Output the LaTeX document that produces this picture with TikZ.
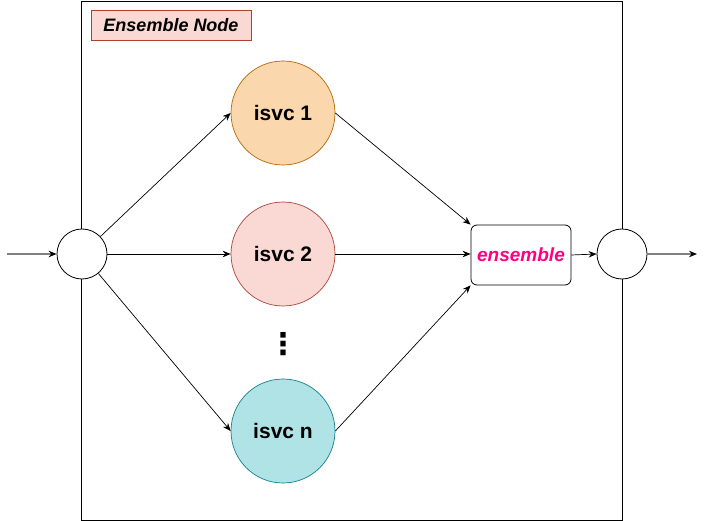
\documentclass[tikz,border=0pt]{standalone}
\usepackage{fontspec}
\setmainfont{Liberation Sans}
\newfontfamily\symfont{DejaVu Sans}
\usetikzlibrary{arrows.meta}
\definecolor{orfill}{HTML}{FAD7AC}\definecolor{ordraw}{HTML}{B46504}
\definecolor{rdfill}{HTML}{FAD9D5}\definecolor{rddraw}{HTML}{AE4132}
\definecolor{blfill}{HTML}{B0E3E6}\definecolor{bldraw}{HTML}{0E8088}
\definecolor{magenta2}{HTML}{FF0080}
\begin{document}
\begin{tikzpicture}[x=1pt,y=-1pt,
  isvc/.style={circle,draw,line width=0.7pt,minimum size=104pt,inner sep=0pt,font=\fontsize{21}{24}\selectfont\bfseries},
  junction/.style={circle,draw,line width=0.8pt,fill=white,minimum size=50pt,inner sep=0pt},
  conn/.style={-{Stealth[length=8pt,width=6.5pt]},line width=0.7pt},
  ioconn/.style={-{Stealth[length=8pt,width=6.5pt,color=black]},line width=1.3pt,draw=gray}]
\useasboundingbox (0,0) rectangle (706,521);
\node[draw,line width=0.8pt,minimum width=541pt,minimum height=519pt,inner sep=0pt] (outer) at (351.5,260.5) {};
\node[draw=rddraw,line width=0.8pt,fill=rdfill,minimum width=160pt,minimum height=30pt,inner sep=0pt,font=\fontsize{18}{21}\selectfont\bfseries\itshape] (lbl) at (171,25) {Ensemble Node};
\node[junction] (in) at (82,254) {};
\node[junction] (out) at (622,254) {};
\node[isvc,fill=orfill,draw=ordraw] (s1) at (283,113) {isvc 1};
\node[isvc,fill=rdfill,draw=rddraw] (s2) at (283,254) {isvc 2};
\node[isvc,fill=blfill,draw=bldraw] (sn) at (283,431) {isvc n};
\node[inner sep=0pt,font=\symfont\bfseries\fontsize{30}{32}\selectfont] (dots) at (283,344) {⋮};
\node[draw,line width=0.8pt,rounded corners=6pt,fill=white,minimum width=100pt,minimum height=60pt,inner sep=0pt,text=magenta2,font=\fontsize{19}{22}\selectfont\bfseries\itshape] (ens) at (521,255) {ensemble};
\coordinate (src) at (7,254);
\coordinate (dst) at (697,254);
\draw[ioconn] (src) -- (in.west);
\draw[ioconn] (out.east) -- (dst);
\draw[conn] (in) -- (s1.west);
\draw[conn] (in.east) -- (s2.west);
\draw[conn] (in) -- (sn.west);
\draw[conn] (s1.east) -- (ens.north west);
\draw[conn] (s2.east) -- (s2.east -| ens.west);
\draw[conn] (sn.east) -- (ens.south west);
\draw[conn] (ens.east) -- (out.west);
\end{tikzpicture}
\end{document}
